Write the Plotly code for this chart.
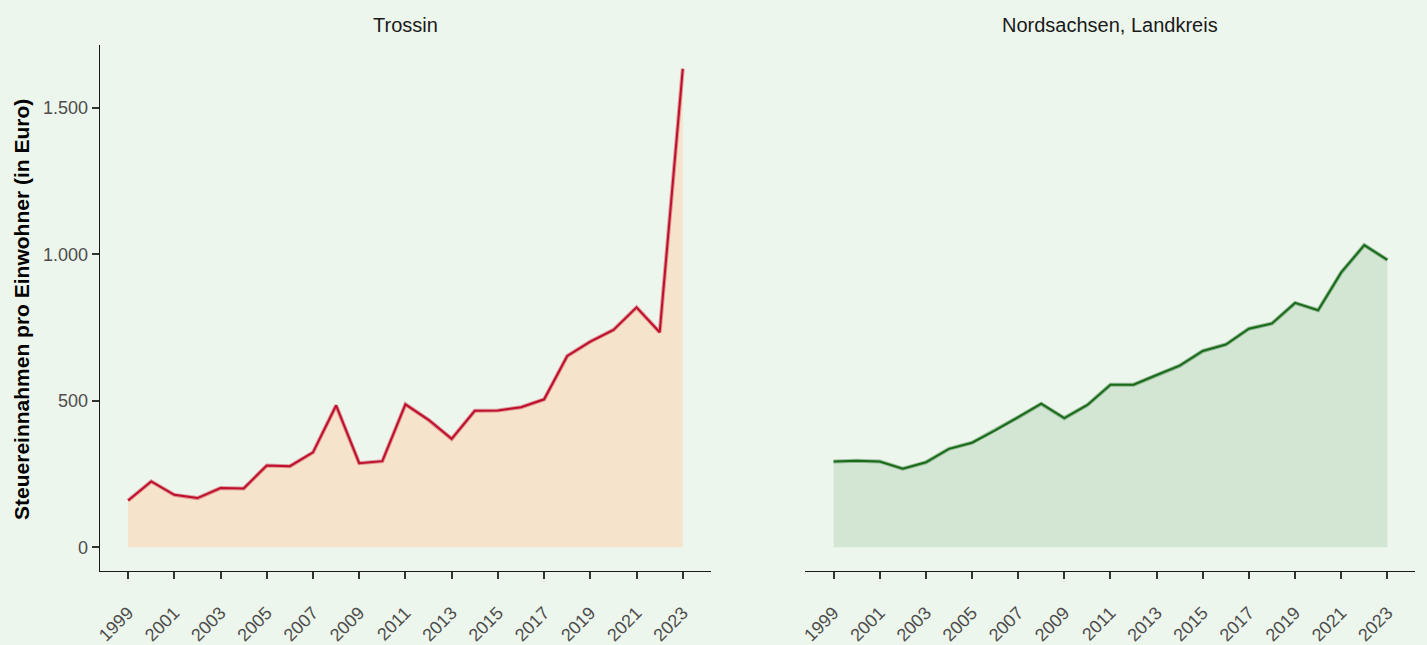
import plotly.graph_objects as go

years = list(range(1999, 2024))
trossin = [160, 225, 179, 168, 202, 201, 279, 277, 324, 484, 287, 294, 488, 435, 370,
           466, 467, 478, 505, 653, 702, 742, 819, 734, 1633]
nordsachsen = [293, 295, 293, 268, 290, 336, 357, 399, 444, 490, 441, 486, 555, 555, 588,
               620, 670, 692, 746, 764, 834, 809, 938, 1031, 981]
panel_titles = ["Trossin", "Nordsachsen, Landkreis"]
y_tickvals = [0, 500, 1000, 1500]
x_tickvals = list(range(1999, 2024, 2))
y_title = "Steuereinnahmen pro Einwohner (in Euro)"

W, H = 1427, 645
BG = "#EDF6EC"
FONT = "Liberation Sans, Arial, sans-serif"

fig = go.Figure()

# Left panel
fig.add_trace(go.Scatter(x=years, y=trossin, mode="lines", fill="tozeroy",
                         fillcolor="#F5E3CB", line=dict(color="rgba(196,18,47,0.4)", width=4),
                         xaxis="x", yaxis="y", hoverinfo="skip", showlegend=False))
fig.add_trace(go.Scatter(x=years, y=trossin, mode="lines",
                         line=dict(color="#BE0F2B", width=2),
                         xaxis="x", yaxis="y", showlegend=False))
# Right panel
fig.add_trace(go.Scatter(x=years, y=nordsachsen, mode="lines", fill="tozeroy",
                         fillcolor="#D3E5D3", line=dict(color="rgba(27,107,30,0.4)", width=4),
                         xaxis="x2", yaxis="y2", hoverinfo="skip", showlegend=False))
fig.add_trace(go.Scatter(x=years, y=nordsachsen, mode="lines",
                         line=dict(color="#1A6A1C", width=2),
                         xaxis="x2", yaxis="y2", showlegend=False))

ydom = [1 - 573 / H, 1 - 45 / H]
xr = [1997.77, 2024.2]
yr = [-81.6, 1714.6]

TICKFONT = dict(family=FONT, size=18, color="#4d4d4d")

xaxis_common = dict(range=xr, tickvals=x_tickvals, ticktext=[str(v) for v in x_tickvals],
                    tickangle=-45, ticks="outside", ticklen=7, tickwidth=1.6, tickcolor="#333333",
                    showline=True, linecolor="#1a1a1a", linewidth=1.2, showgrid=False, zeroline=False,
                    tickfont=TICKFONT, ticklabelstandoff=16, fixedrange=True)

fig.update_layout(
    width=W, height=H, paper_bgcolor=BG, plot_bgcolor=BG,
    margin=dict(l=0, r=0, t=0, b=0),
    separators=",.",
    font=dict(family=FONT),
    xaxis=dict(**xaxis_common, anchor="y", domain=[95 / W, 708 / W]),
    xaxis2=dict(**xaxis_common, anchor="y2", domain=[803 / W, 1415 / W]),
    yaxis=dict(domain=ydom, range=yr, tickvals=y_tickvals, tickformat=",d",
               ticks="outside", ticklen=7, tickwidth=1.6, tickcolor="#333333",
               showline=True, linecolor="#1a1a1a", linewidth=1.2, showgrid=False, zeroline=False,
               tickfont=TICKFONT, anchor="x", fixedrange=True),
    yaxis2=dict(domain=ydom, range=yr, showticklabels=False, ticks="", showline=False,
                showgrid=False, zeroline=False, anchor="x2", fixedrange=True),
    annotations=[
        dict(text=panel_titles[0], x=(95 + 708) / 2 / W, y=1 - 25 / H, xref="paper", yref="paper",
             showarrow=False, font=dict(family=FONT, size=20, color="#1a1a1a"), xanchor="center", yanchor="middle"),
        dict(text=panel_titles[1], x=(803 + 1415) / 2 / W, y=1 - 25 / H, xref="paper", yref="paper",
             showarrow=False, font=dict(family=FONT, size=20, color="#1a1a1a"), xanchor="center", yanchor="middle"),
        dict(text="<b>" + y_title + "</b>", x=16 / W, y=1 - 310 / H, xref="paper", yref="paper",
             textangle=-90, showarrow=False, font=dict(family=FONT, size=21, color="#000000"),
             xanchor="center", yanchor="middle"),
    ],
)

fig.write_html("out.html", config={"displayModeBar": False},
               post_script="document.body.style.margin='0';document.body.style.overflow='hidden';")
